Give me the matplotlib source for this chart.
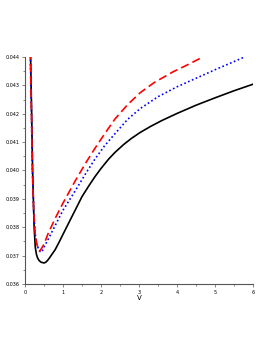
import matplotlib
matplotlib.use('Agg')
import matplotlib.pyplot as plt
from matplotlib.ticker import MultipleLocator, FormatStrFormatter

# curves
black_x = [0.145, 0.16, 0.175, 0.2, 0.24, 0.27, 0.3, 0.33, 0.37, 0.42, 0.5,
           0.55, 0.6, 0.65, 0.7, 0.79, 0.9, 1.0, 1.15, 1.32, 1.5, 1.7, 1.84,
           2.0, 2.2, 2.37, 2.6, 2.8, 3.03, 3.3, 3.6, 4.0, 4.5, 5.0, 5.5, 6.0]
black_y = [0.0442, 0.0430, 0.0420, 0.0400, 0.0380, 0.0373, 0.03705, 0.03692,
           0.03683, 0.03677, 0.03674, 0.03677, 0.03684, 0.03693, 0.03703,
           0.0372, 0.03748, 0.03775, 0.03815, 0.0386, 0.03908, 0.0395,
           0.03978, 0.04007, 0.0404, 0.04064, 0.04092, 0.04113, 0.04134,
           0.04155, 0.04176, 0.04201, 0.0423, 0.04256, 0.04281, 0.04304]

red_x = [0.14, 0.155, 0.17, 0.195, 0.23, 0.27, 0.31, 0.35, 0.38, 0.42,
         0.5, 0.6, 0.79, 1.0, 1.32, 1.6, 1.84, 2.1, 2.37, 2.7, 3.03, 3.4,
         3.9, 4.3, 4.68]
red_y = [0.0442, 0.0430, 0.0420, 0.0400, 0.0385, 0.03775, 0.0374, 0.03725,
         0.03716, 0.03722, 0.0374, 0.03775, 0.0383, 0.03885, 0.03963,
         0.04027, 0.04078, 0.0413, 0.04182, 0.04232, 0.04274, 0.0431,
         0.04348, 0.04374, 0.0440]

blue_x = [0.14, 0.155, 0.17, 0.195, 0.23, 0.27, 0.31, 0.36, 0.4, 0.44,
          0.5, 0.6, 0.79, 1.0, 1.32, 1.6, 1.84, 2.1, 2.37, 2.7, 3.03, 3.5,
          4.0, 4.5, 5.05, 5.4, 5.74]
blue_y = [0.0442, 0.0430, 0.0420, 0.0400, 0.0385, 0.03775, 0.0374, 0.03722,
          0.03714, 0.03712, 0.0373, 0.03755, 0.03805, 0.0386, 0.03928,
          0.0399, 0.0404, 0.04088, 0.0413, 0.0418, 0.04218, 0.0426,
          0.04295, 0.04325, 0.04358, 0.04378, 0.04398]

fig = plt.figure(figsize=(2.73, 3.53), dpi=100)
ax = fig.add_axes([0.0916, 0.1955, 0.835, 0.643])

ax.plot(black_x, black_y, color='black', lw=1.2)
ax.plot(blue_x, blue_y, color='blue', lw=1.2, linestyle=(0, (1, 1.5)))
ax.plot(red_x, red_y, color='red', lw=1.2, linestyle=(0, (5, 2.5)))

ax.set_xlim(0, 6)
ax.set_ylim(0.036, 0.044)
for s in ['top', 'right']:
    ax.spines[s].set_visible(False)
for s in ['left', 'bottom']:
    ax.spines[s].set_color('#555555')
    ax.spines[s].set_linewidth(0.8)

ax.xaxis.set_major_locator(MultipleLocator(1))
ax.xaxis.set_minor_locator(MultipleLocator(0.5))
ax.yaxis.set_major_locator(MultipleLocator(0.001))
ax.yaxis.set_minor_locator(MultipleLocator(0.0005))
ax.yaxis.set_major_formatter(FormatStrFormatter('%.3f'))
ax.tick_params(which='major', labelsize=3.5, length=2.5, width=0.5,
               colors='#555555', labelcolor='black', pad=1.5)
ax.tick_params(which='minor', length=1.5, width=0.5, colors='#555555')
ax.set_xlabel('V', fontsize=5, labelpad=0)

fig.savefig('out.png', dpi=100)
